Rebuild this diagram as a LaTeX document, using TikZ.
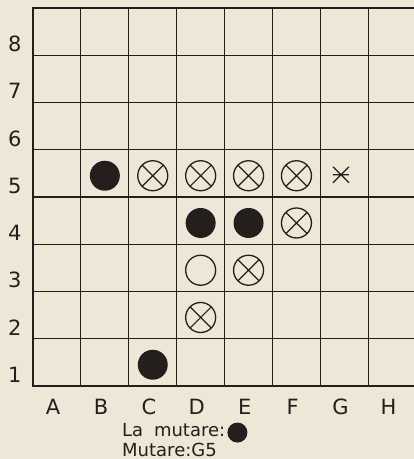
\documentclass[tikz,border=0pt]{standalone}
\usepackage{fontspec}
\setmainfont{DejaVu Sans}
\definecolor{hartie}{RGB}{238,230,215}
\definecolor{cerneala}{RGB}{36,31,29}
\usetikzlibrary{positioning,calc}

\tikzset{
  neagra/.style={circle,fill=cerneala,minimum size=30pt,inner sep=0pt,outer sep=0pt},
  goala/.style={circle,draw=cerneala,line width=1.3pt,minimum size=30pt,inner sep=0pt},
  taiata/.style={goala,path picture={\draw[cerneala,line width=1.2pt]
      (path picture bounding box.north west) -- (path picture bounding box.south east)
      (path picture bounding box.north east) -- (path picture bounding box.south west);}},
  stea/.style={minimum width=16pt,minimum height=16pt,inner sep=0pt,outer sep=0pt},
  eticheta/.style={font=\fontsize{21}{21}\selectfont,text=cerneala,inner sep=0pt},
  text jos/.style={font=\fontsize{18}{18}\selectfont,text=cerneala,inner sep=0pt}
}

\begin{document}
\begin{tikzpicture}[x=47.9pt,y=47.25pt]
      \fill[hartie] (-33pt,-73pt) rectangle (381pt,386pt);
      \clip (-33pt,-73pt) rectangle (381pt,386pt);
      % tabla
      \foreach \i in {1,...,7} {
        \draw[cerneala,line width=1.1pt] (\i,0) -- (\i,8);
        \draw[cerneala,line width=1.1pt] (0,\i) -- (8,\i);
      }
      \draw[cerneala,line width=2.3pt] (0,0) rectangle (8,8);
      % coordonate
      \foreach \r in {1,...,8}
        \node[eticheta] (rand\r) at (-0.38,\r-0.76) {\r};
      \foreach \c [count=\i] in {A,B,C,D,E,F,G,H}
        \node[eticheta] (col\c) at (\i-0.58,-0.45) {\c};
      % piese
      \foreach \poz/\x/\y in {b5/2/5,d4/4/4,e4/5/4,c1/3/1}
        \node[neagra] (\poz) at (\x-0.5,\y-0.55) {};
      \foreach \poz/\x/\y in {c5/3/5,d5/4/5,e5/5/5,f5/6/5,f4/6/4,e3/5/3,d2/4/2}
        \node[taiata] (\poz) at (\x-0.5,\y-0.55) {};
      \node[goala] (d3) at (3.5,2.45) {};
      \node[stea] (g5) at (6.43,4.47) {};
      \draw[cerneala,line width=1.2pt] (g5.north west) -- (g5.south east)
        (g5.north east) -- (g5.south west) (g5.west) -- (g5.east);
      % mutarea
      \node[text jos,anchor=base west] (lamut) at (89pt,-50pt)
        {La\hspace{0.6em}mutare:};
      \node[neagra,minimum size=20pt,right=2pt of lamut,yshift=-3pt] (piesa) {};
      \node[text jos,below=20pt of lamut.base west,anchor=base west] (mut)
        {Mutare:G5};
    \end{tikzpicture}
\end{document}
